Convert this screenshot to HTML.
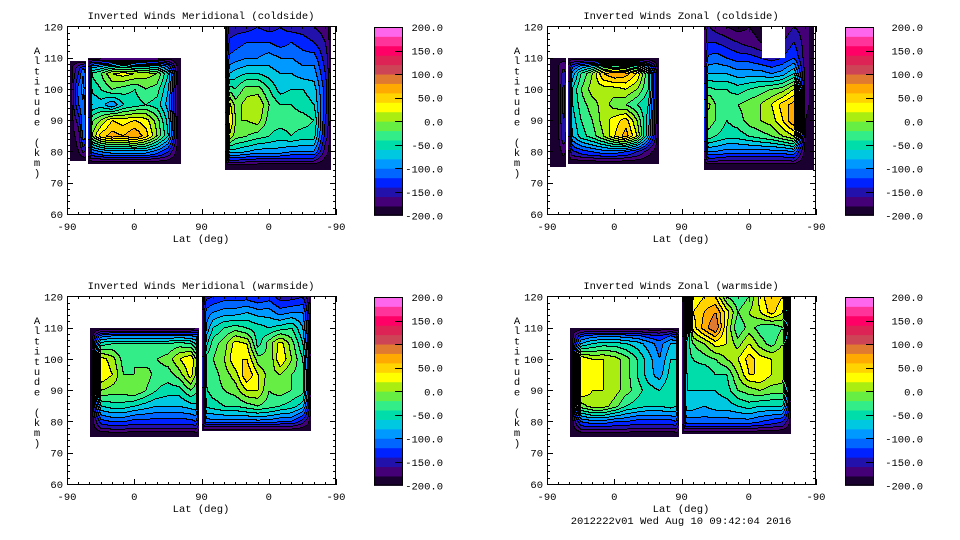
<!DOCTYPE html>
<html><head><meta charset="utf-8">
<style>
body{margin:0;background:#fff;width:960px;height:540px;overflow:hidden;position:relative;font-family:"Liberation Mono",monospace;}
canvas{position:absolute;image-rendering:pixelated;}
svg{position:absolute;left:0;top:0;}
text{font-family:"Liberation Mono",monospace;font-size:10.5px;fill:#000;}
</style></head>
<body>
<canvas id="c0" width="269" height="189" style="left:67px;top:26px"></canvas>
<canvas id="c1" width="269" height="189" style="left:547px;top:26px"></canvas>
<canvas id="c2" width="269" height="189" style="left:67px;top:296px"></canvas>
<canvas id="c3" width="269" height="189" style="left:547px;top:296px"></canvas>
<svg id="svg" width="960" height="540"></svg>
<script>
const N=null;
// grid columns along the folded latitude axis (0=-90, 180=90, 360=-90)
const colPos=[0,15,30,45,60,75,90,105,120,135,150,165,180,195,210,225,240,255,270,285,300,315,330,345,360];
const alts=[120,115,110,105,100,95,90,85,80,75];
const levels=[-200,-180,-160,-140,-120,-100,-80,-60,-40,-20,0,20,40,60,80,100,120,140,160,180,200];
const cbLabels=["200.0","150.0","100.0","50.0","0.0","-50.0","-100.0","-150.0","-200.0"];
const xTickLabels=["-90","0","90","0","-90"];
const yTickLabels=["60","70","80","90","100","110","120"];
const titles=["Inverted Winds Meridional (coldside)","Inverted Winds Zonal (coldside)","Inverted Winds Meridional (warmside)","Inverted Winds Zonal (warmside)"];

const merCold=[
[N,N,N,N,N,N,N,N,N,N,N,N,N,N,-160,-150,-150,-140,-150,-140,-150,-150,-160,-170,N],
[N,N,N,N,N,N,N,N,N,N,N,N,N,N,-140,-130,-120,-120,-120,-130,-120,-130,-140,-160,N],
[N,-160,-160,-150,-150,-150,-150,-150,-150,-160,-200,N,N,N,-120,-110,-100,-100,-90,-100,-100,-110,-110,-150,N],
[N,-140,-40,-20,20,30,20,10,0,-60,-200,N,N,N,-90,-70,-60,-60,-70,-80,-80,-90,-90,-140,N],
[N,-110,-60,-40,-20,-30,-40,-20,-30,-80,-200,N,N,N,-20,-40,-10,-10,-40,-70,-60,-60,-70,-130,N],
[N,-120,-80,-70,-100,-60,-50,-40,-50,-90,-200,N,N,N,60,-10,10,20,-20,-40,-40,-50,-60,-130,N],
[N,-150,-30,0,40,30,40,30,-10,-70,-200,N,N,N,80,0,0,10,-30,-30,-30,-30,-40,-140,N],
[N,-170,-10,50,70,60,80,50,0,-60,-200,N,N,N,40,-10,-20,-30,-40,-50,-40,-50,-50,-150,N],
[N,-180,-120,-100,-90,-90,-90,-90,-110,-140,-200,N,N,N,-70,-70,-80,-90,-90,-90,-100,-100,-100,-170,N],
[N,-200,-200,-200,-200,-200,-200,-200,-200,-200,-200,N,N,N,-200,-200,-200,-200,-200,-200,-200,-200,-200,-200,N]];
const zonCold=[
[N,N,N,N,N,N,N,N,N,N,N,N,N,N,-150,-170,-180,-190,-180,-190,-190,-180,-160,-170,N],
[N,N,N,N,N,N,N,N,N,N,N,N,N,N,-140,-140,-150,-160,-170,-180,-180,-160,-140,-170,N],
[N,-180,-170,-160,-160,-160,-160,-160,-160,-170,-200,N,N,N,-120,-110,-120,-130,-130,-140,-150,-140,-120,-170,N],
[N,-180,-110,-40,0,60,80,70,40,-40,-200,N,N,N,-80,-80,-80,-90,-90,-90,-100,-90,-60,-170,N],
[N,-180,-70,-20,10,10,10,20,0,-40,-200,N,N,N,-30,-40,-40,-50,-40,-30,-20,-10,20,-170,N],
[N,-180,-70,-30,-10,10,-10,-20,-40,-60,-200,N,N,N,20,-20,-30,-20,-10,0,20,50,70,-170,N],
[N,-180,-80,-40,-20,10,30,50,0,-70,-200,N,N,N,0,-20,-40,-30,-10,0,10,40,80,-180,N],
[N,-180,-90,-50,-30,0,40,70,20,-80,-200,N,N,N,-20,-40,-50,-50,-40,-30,-20,0,20,-180,N],
[N,-190,-150,-130,-120,-110,-110,-120,-140,-170,-200,N,N,N,-100,-100,-110,-110,-110,-110,-110,-110,-100,-190,N],
[N,-200,-200,-200,-200,-200,-200,-200,-200,-200,-200,N,N,N,-200,-200,-200,-200,-200,-200,-200,-200,-200,-200,N]];
const merWarm=[
[N,N,N,N,N,N,N,N,N,N,N,N,-150,-140,-130,-130,-130,-140,-130,-150,-150,-140,-200,N,N],
[N,N,N,N,N,N,N,N,N,N,N,N,-120,-100,-90,-90,-80,-90,-90,-110,-100,-100,-200,N,N],
[N,N,-200,-170,-160,-160,-160,-160,-160,-160,-160,-160,-120,-60,-40,-30,-40,-50,-60,-50,-40,-80,-200,N,N],
[N,N,-200,-50,-40,-40,-40,-40,-40,-40,-30,-40,-90,-30,-10,30,20,-50,-10,30,-10,-60,-200,N,N],
[N,N,-200,30,10,-30,-20,-30,-20,-10,20,40,-40,-20,0,40,40,-10,-20,40,0,-40,-200,N,N],
[N,N,-200,40,20,-20,-20,-10,-30,-30,-10,30,-40,-30,-10,10,60,20,-10,0,-20,-30,-200,N,N],
[N,N,-200,0,-10,-10,0,-20,-40,-50,-50,-20,-50,-30,-20,-10,20,20,-20,-10,-20,-30,-200,N,N],
[N,N,-200,-60,-50,-50,-60,-70,-80,-80,-80,-70,-60,-50,-40,-40,-30,-20,-30,-40,-50,-70,-200,N,N],
[N,N,-200,-130,-120,-120,-130,-130,-130,-130,-130,-130,-110,-110,-110,-110,-110,-110,-110,-120,-120,-150,-200,N,N],
[N,N,-200,-200,-200,-200,-200,-200,-200,-200,-200,-200,-200,-200,-200,-200,-200,-200,-200,-200,-200,-200,-200,N,N]];
const zonWarm=[
[N,N,N,N,N,N,N,N,N,N,N,N,-200,20,40,40,-20,-40,-20,30,60,40,-200,N,N],
[N,N,N,N,N,N,N,N,N,N,N,N,-200,40,60,80,30,-20,0,20,50,20,-200,N,N],
[N,N,-200,-170,-160,-160,-160,-160,-160,-170,-170,-160,-200,30,70,100,20,-40,-10,-30,-40,-20,-200,N,N],
[N,N,-200,-80,-60,-50,-50,-60,-70,-90,-110,-80,-80,-20,0,30,20,-10,20,-10,-30,0,-200,N,N],
[N,N,-200,40,20,20,10,-10,-40,-70,-100,-60,-60,-40,-30,-20,0,20,50,30,20,20,-200,N,N],
[N,N,-200,40,20,20,10,-10,-40,-70,-90,-50,-70,-50,-60,-40,-40,0,40,40,20,10,-200,N,N],
[N,N,-200,40,20,20,10,-10,-30,-50,-60,-40,-60,-60,-60,-60,-50,-20,-10,0,-10,-10,-200,N,N],
[N,N,-200,-10,10,10,-10,-40,-50,-60,-60,-50,-70,-70,-80,-70,-70,-60,-50,-60,-60,-60,-200,N,N],
[N,N,-200,-120,-110,-110,-120,-120,-130,-130,-130,-130,-110,-110,-110,-110,-110,-110,-110,-120,-130,-140,-200,N,N],
[N,N,-200,-200,-200,-200,-200,-200,-200,-200,-200,-200,-200,-200,-200,-200,-200,-200,-200,-200,-200,-200,-200,N,N]];
const panelData=[merCold,zonCold,merWarm,zonWarm];
// data coverage regions: [posStart,posEnd,altBottom,altTop]
const coverage=[
 [[4,26,77,109],[28,152,76,110],[212,353,74,120]],
 [[4,26,75,110],[28,150,76,110],[210,357,74,120]],
 [[31,177,75,110],[181,327,77,120]],
 [[31,177,75,110],[181,327,76,120]]];
const gaps=[[],[[288,318,110,121]],[],[]];

const colors=["#1a0030","#440077","#2211aa","#0022ff","#0066ff","#0099ff","#00c8e0","#00ddaa","#33ee88","#66ee44","#aaee11","#ffff00","#ffd400","#ffaa00","#e07a30","#cc4455","#dd2255","#ff0066","#ff3399","#ff66ee"];
function hex(c){return [parseInt(c.substr(1,2),16),parseInt(c.substr(3,2),16),parseInt(c.substr(5,2),16)];}
const rgb=colors.map(hex);
const ALT_BOT=59.6, ALT_TOP=120.1;
function valAt(d,p,a){
  let fi=p/15, fj=(120-a)/5;
  fi=Math.max(0,Math.min(24,fi)); fj=Math.max(0,Math.min(9,fj));
  const i0=Math.min(23,Math.floor(fi)), j0=Math.min(8,Math.floor(fj));
  const ti=fi-i0, tj=fj-j0;
  const g=(j,i)=>{const v=d[j][i];return v===null?-200:v;};
  return (g(j0,i0)*(1-ti)+g(j0,i0+1)*ti)*(1-tj)+(g(j0+1,i0)*(1-ti)+g(j0+1,i0+1)*ti)*tj;
}
function band(v){let b=0;for(let k=1;k<levels.length-1;k++){if(v>=levels[k])b=k;}return b;}
for(let k=0;k<4;k++){
  const cv=document.getElementById('c'+k), ctx=cv.getContext('2d');
  const W=cv.width,H=cv.height, img=ctx.createImageData(W,H);
  const B=new Int16Array(W*H).fill(-1);
  for(let y=0;y<H;y++)for(let x=0;x<W;x++){
    const p=(x+0.5)/W*360, a=ALT_TOP-(y+0.5)/H*(ALT_TOP-ALT_BOT);
    const r=coverage[k].find(r=>p>=r[0]&&p<=r[1]&&a>=r[2]&&a<=r[3]);
    if(!r)continue;
    if(gaps[k].some(g=>p>=g[0]&&p<=g[1]&&a>=g[2]&&a<=g[3]))continue;
    let v=valAt(panelData[k],p,a);
    // smooth fall-off toward the edge of the coverage region
    let f=1;
    const dS=Math.min(p-r[0],r[1]-p)/5;
    const dT=r[3]>=119.9?1:(r[3]-a)/2.5;
    const dB=(a-r[2])/3;
    f=Math.max(0,Math.min(1,dS,dT,dB));
    f=Math.sqrt(f);
    v=-200+(v+200)*f;
    B[y*W+x]=band(v);
  }
  for(let y=0;y<H;y++)for(let x=0;x<W;x++){
    const b=B[y*W+x],o=(y*W+x)*4;
    if(b<0){img.data[o]=255;img.data[o+1]=255;img.data[o+2]=255;img.data[o+3]=255;continue;}
    let line=false;
    if(x>0&&B[y*W+x-1]>=0&&B[y*W+x-1]!==b)line=true;
    if(y>0&&B[(y-1)*W+x]>=0&&B[(y-1)*W+x]!==b)line=true;
    const c=line?[0,0,0]:rgb[b];
    img.data[o]=c[0];img.data[o+1]=c[1];img.data[o+2]=c[2];img.data[o+3]=255;
  }
  ctx.putImageData(img,0,0);
}

// axes
const svg=document.getElementById('svg');
const NS='http://www.w3.org/2000/svg';
function el(tag,attrs,parent){const e=document.createElementNS(NS,tag);for(const k in attrs)e.setAttribute(k,attrs[k]);(parent||svg).appendChild(e);return e;}
const offs=[[0,0,374],[480,0,845],[0,270,374],[480,270,845]];
offs.forEach(([ox,oy,cbx],k)=>{
  const g=el('g',{});
  
  
  const x0=ox+67,x1=ox+336,y0=oy+26,y1=oy+215;
  const fx=p=>x0+p/360*(x1-x0);
  const fy=a=>y1-(a-ALT_BOT)/(ALT_TOP-ALT_BOT)*(y1-y0);
  const fr=el('rect',{x:x0+0.5,y:y0+0.5,width:x1-x0-1,height:y1-y0-1,fill:'none',stroke:'#000','stroke-width':1},g);
  
  
  let d='';
  for(let p=0;p<=360;p+=15){const X=Math.round(fx(p))+0.5;const L=(p%90===0)?6:3;d+=`M${X} ${y1}v${-L}M${X} ${y0}v${L}`;}
  for(let a=60;a<=120;a+=2){const Y=Math.round(fy(a))+0.5;const L=(a%10===0)?6:3;d+=`M${x0} ${Y}h${L}M${x1} ${Y}h${-L}`;}
  el('path',{d:d,stroke:'#000','stroke-width':1,fill:'none'},g);
  xTickLabels.forEach((t,i)=>{const tx=el('text',{x:fx(i*90),y:oy+230,'text-anchor':'middle'},g);tx.textContent=t;
    });
  yTickLabels.forEach((t)=>{const tx=el('text',{x:x0-4,y:fy(+t)+4,'text-anchor':'end'},g);tx.textContent=t;
    });
  const xt=el('text',{x:ox+201,y:oy+242,'text-anchor':'middle'},g);xt.textContent='Lat (deg)';
  
  const tt=el('text',{x:ox+201,y:oy+19,'text-anchor':'middle'},g);tt.textContent=titles[k];
  
  const yl=el('g',{},g);
  
  'Altitude (km)'.split('').forEach((ch,i)=>{if(ch===' ')return;const t=el('text',{x:ox+37,y:oy+54+i*10.2,'text-anchor':'middle'},yl);t.textContent=ch;});
  // colorbar
  const cb=el('g',{},g);
  
  const cbTop=oy+27,cbBot=oy+215.5,cbW=29,n=colors.length,bh=(cbBot-cbTop)/n;
  colors.forEach((c,i)=>{const r=el('rect',{x:cbx,y:cbBot-(i+1)*bh,width:cbW,height:bh+0.4,fill:c},cb);
    });
  el('rect',{x:cbx+0.5,y:cbTop+0.5,width:cbW-1,height:cbBot-cbTop-1,fill:'none',stroke:'#000'},cb);
  let dt='';
  cbLabels.forEach((t,i)=>{const Y=cbTop+i*(cbBot-cbTop)/8;if(i>0&&i<8)dt+=`M${cbx+cbW-8} ${Math.round(Y)+0.5}h8`;
    const tx=el('text',{x:ox+443,y:Y+4,'text-anchor':'end'},cb);tx.textContent=t;
    });
  el('path',{d:dt,stroke:'#000'},cb);
});
const cap=el('text',{x:681,y:524,'text-anchor':'middle'});
cap.textContent='2012222v01 Wed Aug 10 09:42:04 2016';


</script>
</body></html>
